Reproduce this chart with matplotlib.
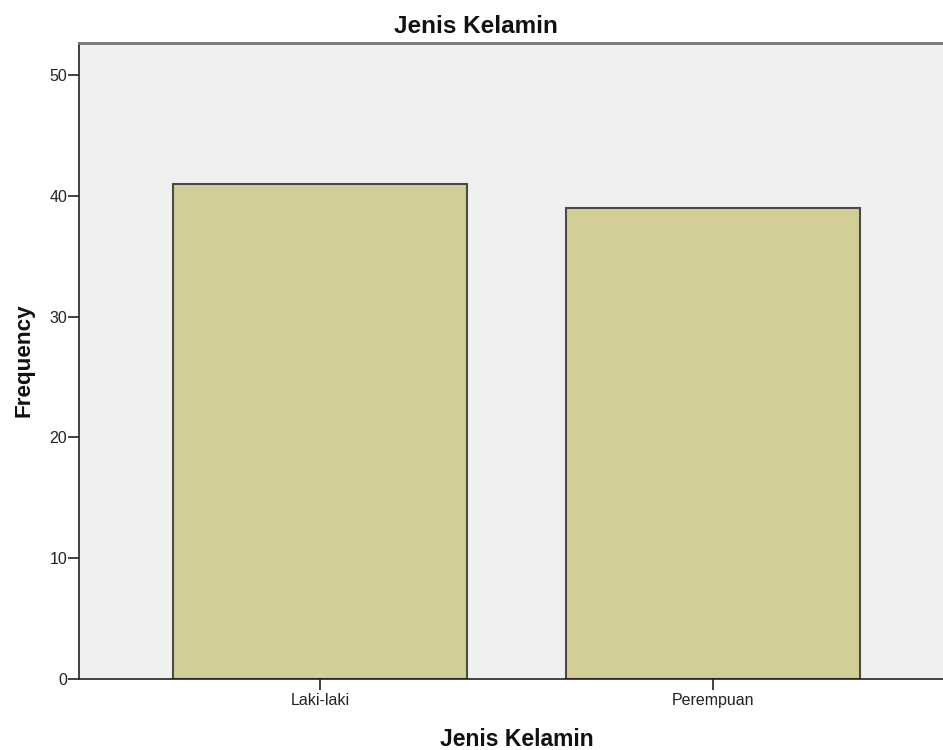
import matplotlib
matplotlib.use("Agg")
import matplotlib.pyplot as plt

categories = ["Laki-laki", "Perempuan"]
frequencies = [41, 39]
y_ticks = [0, 10, 20, 30, 40, 50]

plt.rcParams['font.family'] = ['Liberation Sans', 'DejaVu Sans']

W, H = 943, 750
fig = plt.figure(figsize=(W / 100, H / 100), dpi=100)
ax = fig.add_axes([79 / W, 1 - 679 / H, 1 - 79 / W, (679 - 43) / H])
ax.set_facecolor('#F0F0F0')

x = list(range(len(categories)))
ax.bar(x, frequencies, width=0.75, color='#D3CE97', edgecolor='#4A4A4A', linewidth=1.5, zorder=2)

ax.set_xlim(-0.613, 1.585)
ax.set_ylim(0, 52.65)
ax.set_xticks(x)
ax.set_xticklabels(categories, fontsize=11.5)
ax.set_yticks(y_ticks)
ax.set_yticklabels([str(v) for v in y_ticks], fontsize=11.5)
ax.tick_params(axis='both', length=8, width=1.2, color='#222222', labelcolor='#222222')
ax.tick_params(axis='y', pad=0.5)
ax.tick_params(axis='x', pad=2)

for s in ['left', 'bottom']:
    ax.spines[s].set_color('#222222')
    ax.spines[s].set_linewidth(1.2)
ax.spines['top'].set_color('#777777')
ax.spines['top'].set_linewidth(2)
ax.spines['right'].set_visible(False)

fig.text(476 / W, 1 - 33 / H, 'Jenis Kelamin', fontsize=17.5, fontweight='bold',
         ha='center', va='baseline', color='#111111')
fig.text(517 / W, 1 - 746 / H, 'Jenis Kelamin', fontsize=16.5, fontweight='bold',
         ha='center', va='baseline', color='#111111')
fig.text(24 / W, 1 - 360 / H, 'Frequency', fontsize=16.2, fontweight='bold',
         rotation=90, ha='center', va='center', color='#111111')

fig.savefig('out.png', dpi=100)
